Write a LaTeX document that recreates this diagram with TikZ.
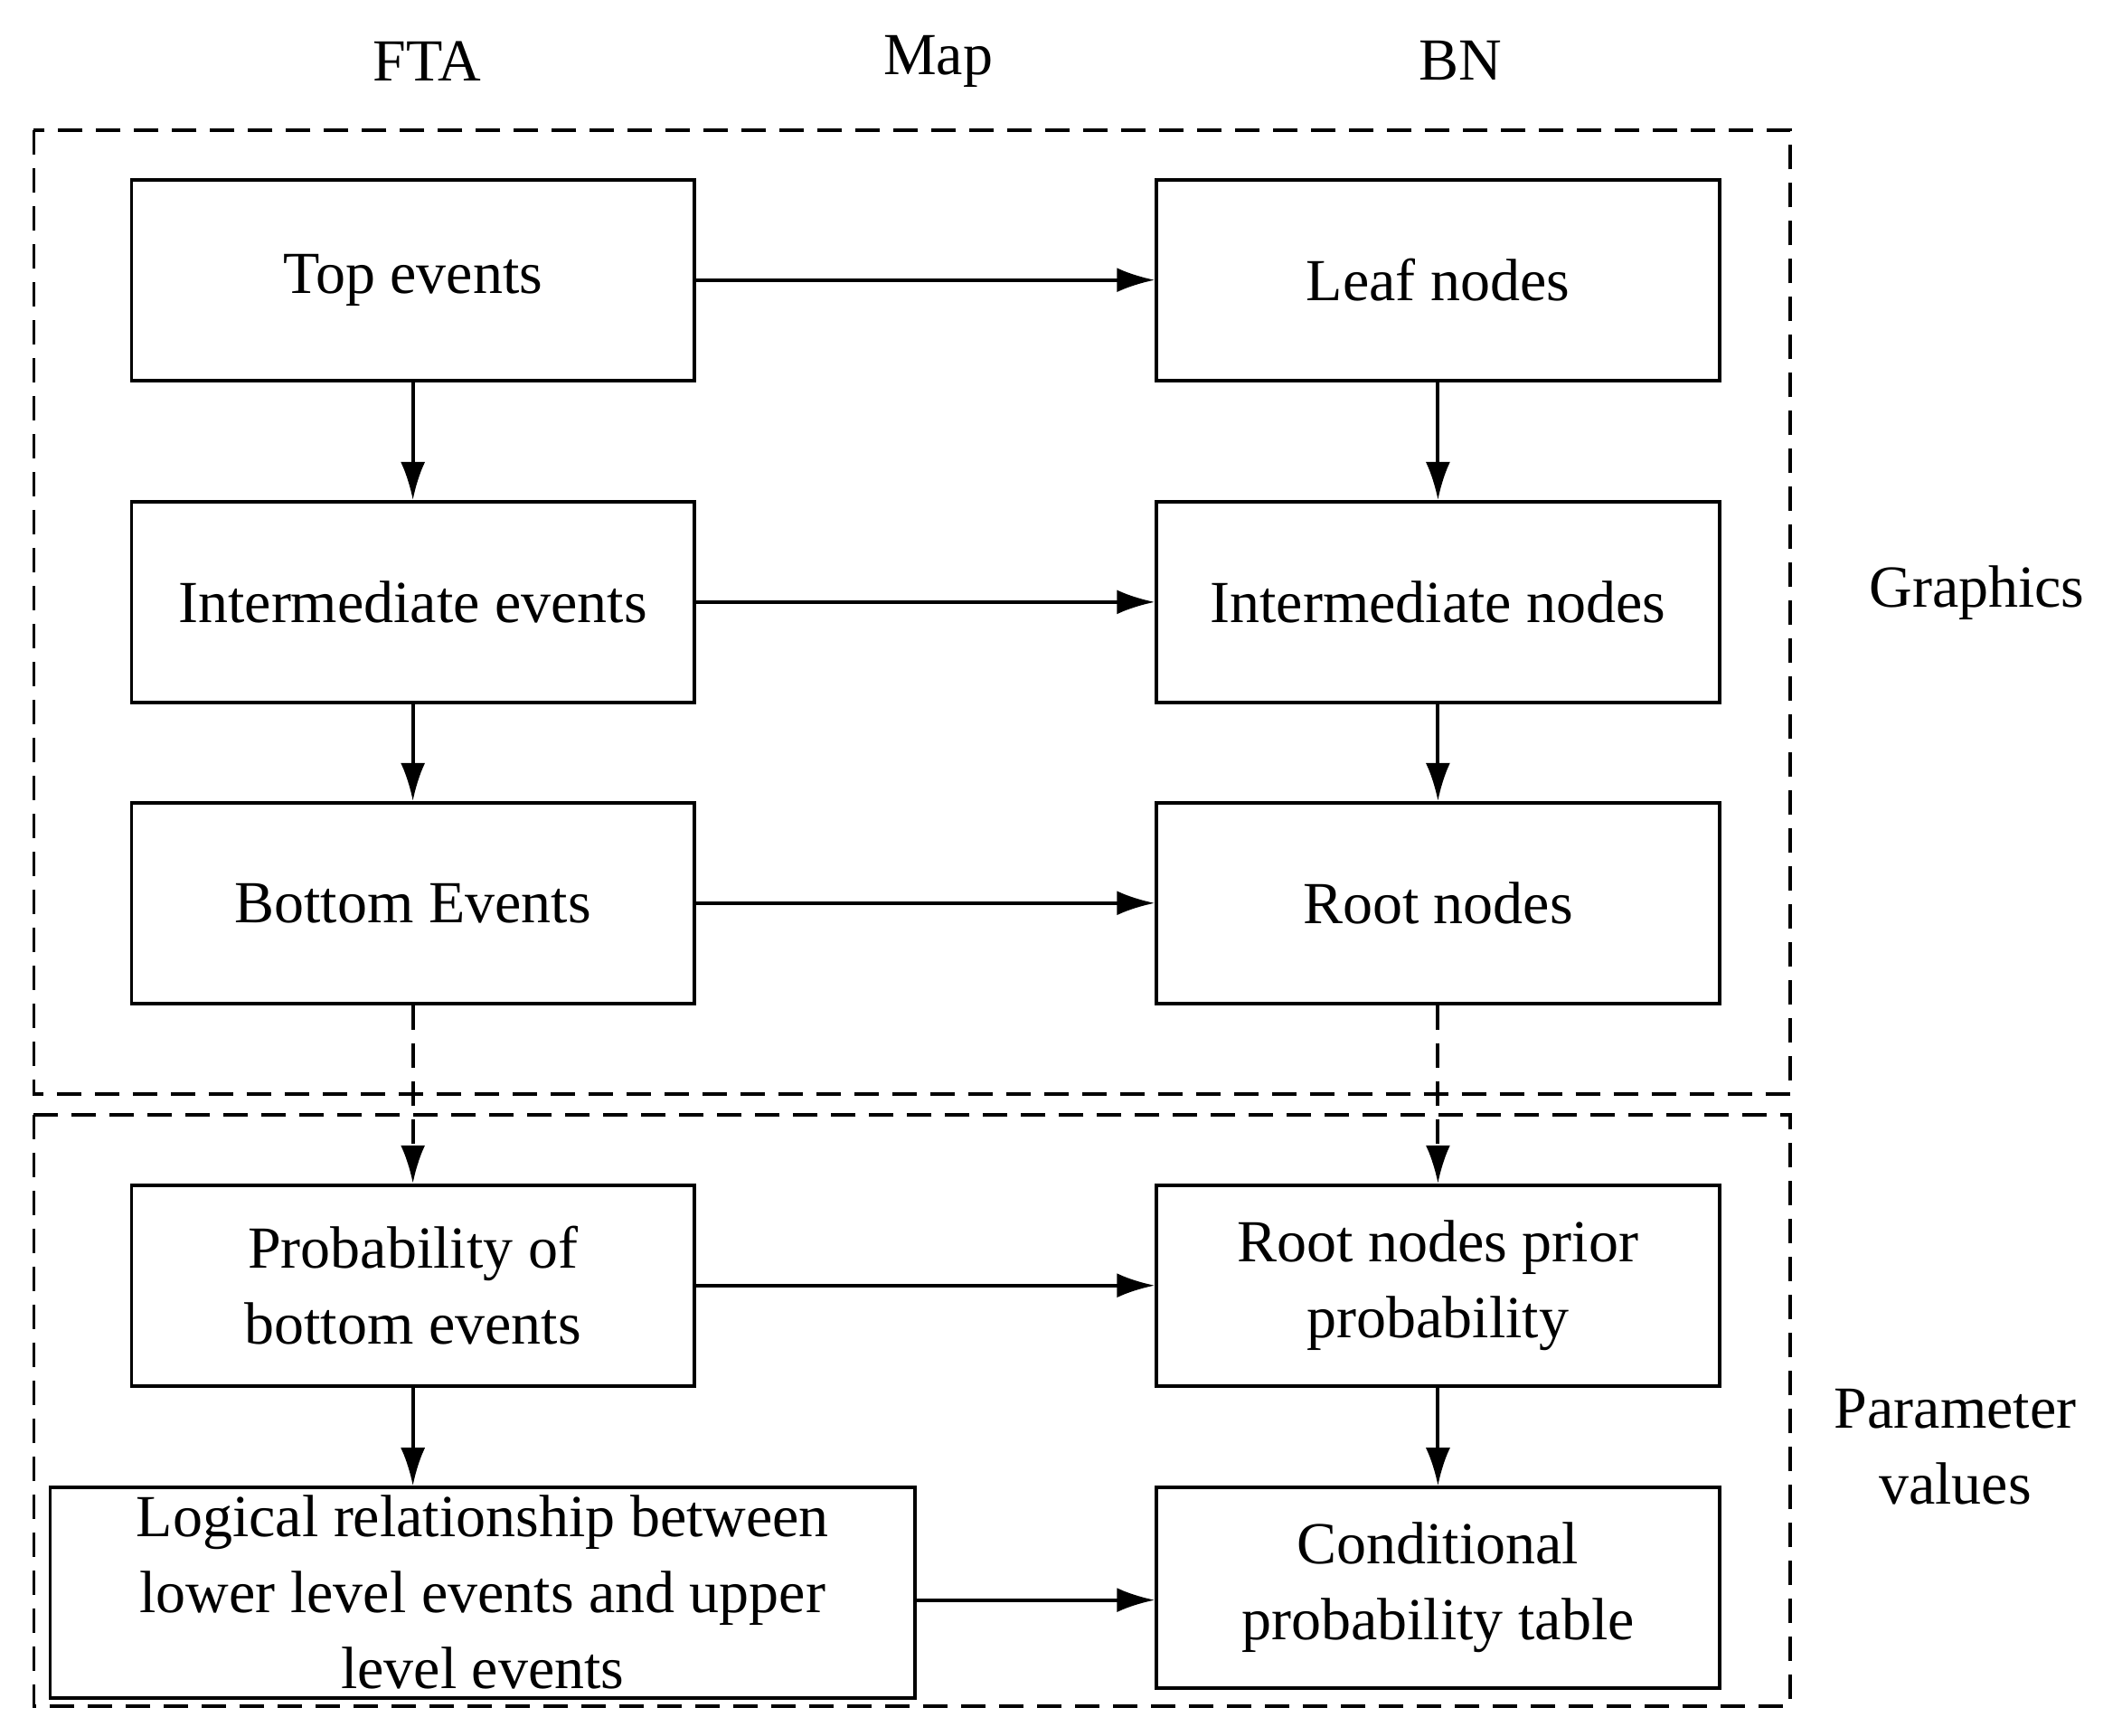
\documentclass[tikz,border=0pt]{standalone}
\usepackage{fontspec}
\setmainfont{Liberation Serif}
\usetikzlibrary{arrows.meta}
\begin{document}
\begin{tikzpicture}[x=0.5pt,y=-0.5pt,
  box/.style={draw,line width=1.3pt,minimum width=207.5pt,minimum height=74pt,align=center,font=\fontsize{22}{28}\selectfont,inner sep=0pt},
  lbl/.style={font=\fontsize{22}{28}\selectfont,align=center},
  arr/.style={line width=1.3pt,-{Latex[length=14pt,width=9pt]}},
  dbox/.style={line width=1.3pt,dash pattern=on 9pt off 5pt}]
\useasboundingbox (0,0) rectangle (1565,1280);
\node[lbl] (hf) at (315,45) {FTA};
\node[lbl] (hm) at (692,45) {Map};
\node[lbl] (hb) at (1077,45) {BN};
\draw[dbox] (25,96) rectangle (1320,807);
\draw[dbox] (25,822) rectangle (1320,1258);
\node[lbl] (g) at (1458,437) {Graphics};
\node[lbl] (pv) at (1442,1067) {Parameter\\values};
\node[box] (a1) at (304.5,206.5) {Top events};
\node[box] (a2) at (304.5,444) {Intermediate events};
\node[box] (a3) at (304.5,666) {Bottom Events};
\node[box] (a4) at (304.5,948) {Probability of\\bottom events};
\node[box,minimum width=319pt,minimum height=77.5pt] (a5) at (356,1174.5) {Logical relationship between\\lower level events and upper\\level events};
\node[box] (b1) at (1060.5,206.5) {Leaf nodes};
\node[box] (b2) at (1060.5,444) {Intermediate nodes};
\node[box] (b3) at (1060.5,666) {Root nodes};
\node[box] (b4) at (1060.5,948) {Root nodes prior\\probability};
\node[box] (b5) at (1060.5,1171) {Conditional\\probability table};
\draw[arr] (a1) -- (a2);
\draw[arr] (a2) -- (a3);
\draw[arr,dash pattern=on 9pt off 5pt] (a3) -- (a4);
\draw[arr] (a4.south) -- (a4.south |- a5.north);
\draw[arr] (b1) -- (b2);
\draw[arr] (b2) -- (b3);
\draw[arr,dash pattern=on 9pt off 5pt] (b3) -- (b4);
\draw[arr] (b4) -- (b5);
\draw[arr] (a1) -- (b1);
\draw[arr] (a2) -- (b2);
\draw[arr] (a3) -- (b3);
\draw[arr] (a4) -- (b4);
\draw[arr] (a5.east |- 0,1180) -- (b5.west |- 0,1180);
\end{tikzpicture}
\end{document}
